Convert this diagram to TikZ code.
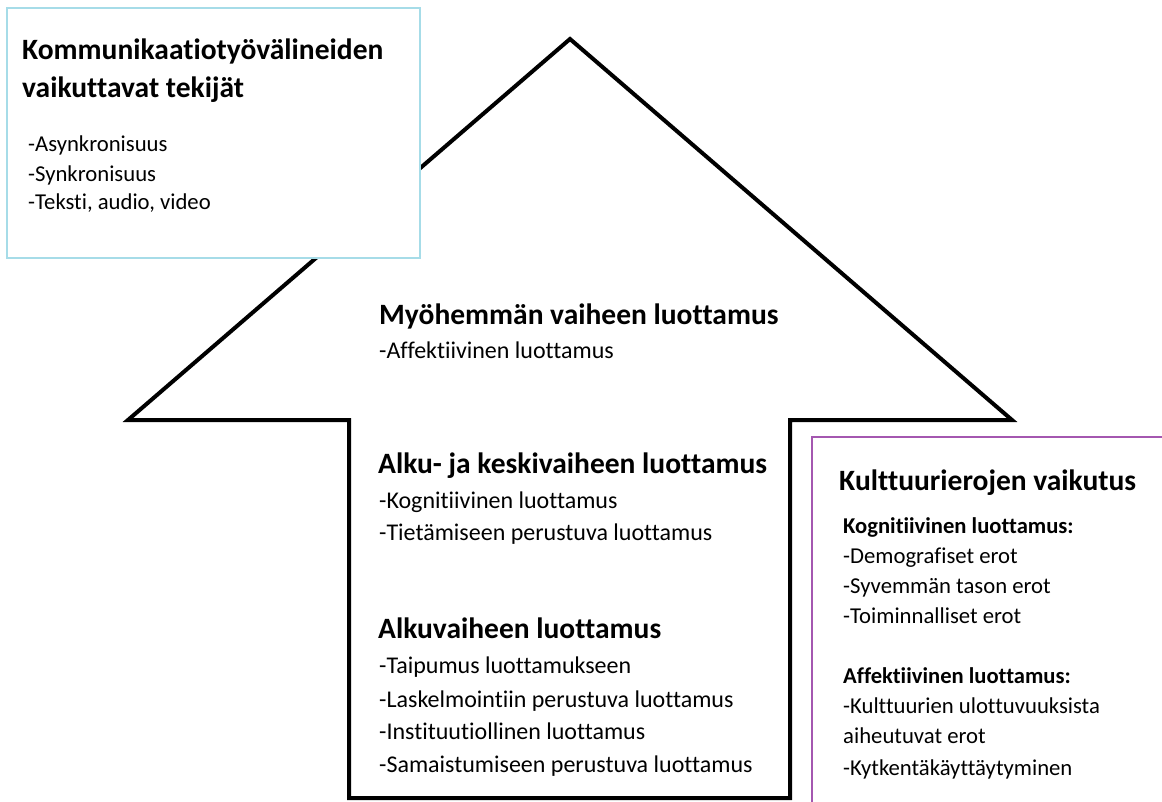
\documentclass[tikz,border=0pt]{standalone}
\usepackage{fontspec}
\setmainfont{Carlito}[Ligatures={NoCommon}]
\definecolor{boxblue}{HTML}{A6DCE8}
\definecolor{boxpurple}{HTML}{A457B0}
\tikzset{
  head/.style={anchor=base west, inner sep=0pt, font=\fontsize{29.5}{34}\selectfont\bfseries},
  subhead/.style={anchor=base west, inner sep=0pt, font=\fontsize{22.6}{27}\selectfont\bfseries},
  item/.style={anchor=base west, inner sep=0pt, font=\fontsize{24}{28}\selectfont},
  sitem/.style={anchor=base west, inner sep=0pt, font=\fontsize{22.7}{27}\selectfont},
  arrowline/.style={draw=black, line width=4pt, line join=miter},
}
\begin{document}
\begin{tikzpicture}[x=1pt,y=-1pt]
\useasboundingbox (0,0) rectangle (1162,802);
\fill[white] (0,0) rectangle (1162,802);
% big arrow
\draw[arrowline] (349,798) -- (349,420) -- (128,420) -- (570,39) -- (1012,420) -- (790,420) -- (790,798) -- cycle;
% top-left box
\draw[boxblue, line width=2pt, fill=white] (7,8) rectangle (420,258);
\node[head] (kt1) at (22,60) {Kommunikaatiotyövälineiden};
\node[head] (kt2) at (22,98) {vaikuttavat tekijät};
\node[sitem] (k1) at (28,152) {-Asynkronisuus};
\node[sitem] (k2) at (28,182) {-Synkronisuus};
\node[sitem] (k3) at (28,210) {-Teksti, audio, video};
% arrow texts
\node[head] (m0) at (379,325) {Myöhemmän vaiheen luottamus};
\node[item] (m1) at (379,358) {-Affektiivinen luottamus};
\node[head] (a0) at (378,473) {Alku- ja keskivaiheen luottamus};
\node[item] (a1) at (379,508) {-Kognitiivinen luottamus};
\node[item] (a2) at (379,540) {-Tietämiseen perustuva luottamus};
\node[head] (b0) at (378,638) {Alkuvaiheen luottamus};
\node[item] (b1) at (379,673) {-Taipumus luottamukseen};
\node[item] (b2) at (379,707) {-Laskelmointiin perustuva luottamus};
\node[item] (b3) at (379,739) {-Instituutiollinen luottamus};
\node[item] (b4) at (379,772) {-Samaistumiseen perustuva luottamus};
% right box
\draw[boxpurple, line width=2pt, fill=white] (812,437) rectangle (1175,815);
\node[head] (c0) at (839,490) {Kulttuurierojen vaikutus};
\node[subhead] (c1) at (843,533) {Kognitiivinen luottamus:};
\node[sitem] (c2) at (843,563) {-Demografiset erot};
\node[sitem] (c3) at (843,593) {-Syvemmän tason erot};
\node[sitem] (c4) at (843,623) {-Toiminnalliset erot};
\node[subhead] (c5) at (843,683) {Affektiivinen luottamus:};
\node[sitem] (c6) at (843,713) {-Kulttuurien ulottuvuuksista};
\node[sitem] (c7) at (843,743) {aiheutuvat erot};
\node[sitem] (c8) at (843,775) {-Kytkentäkäyttäytyminen};
\end{tikzpicture}
\end{document}
